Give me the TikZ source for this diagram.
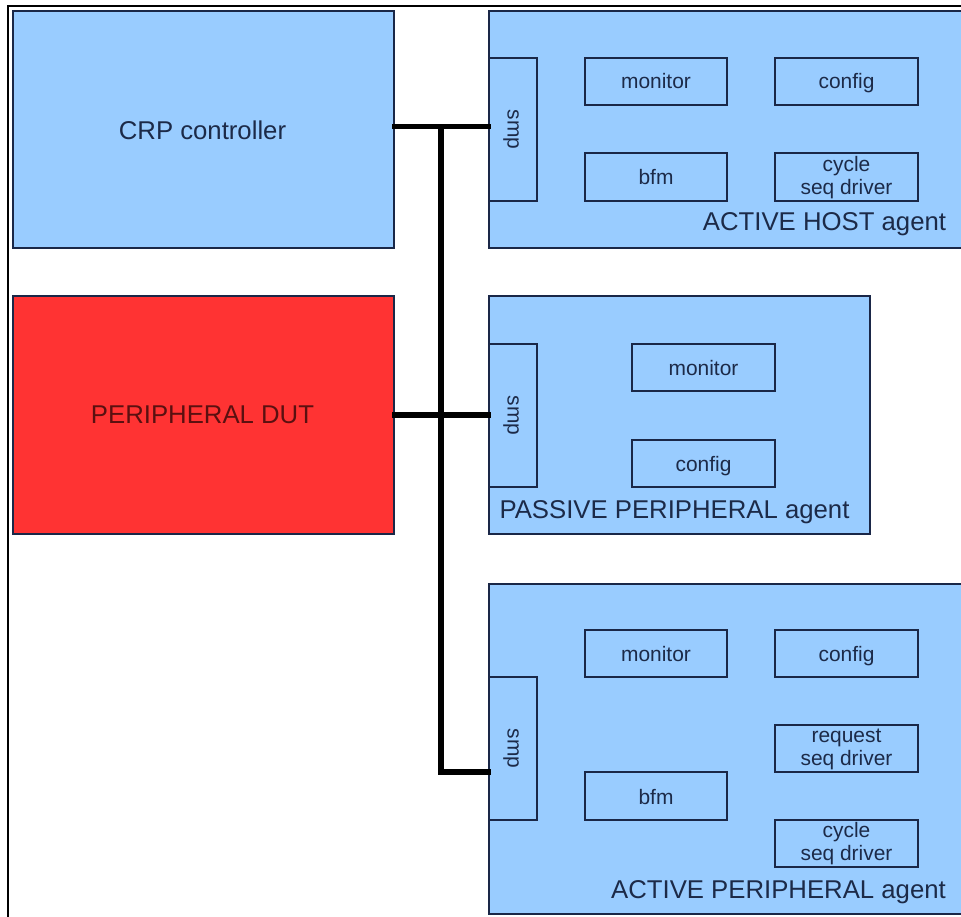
\documentclass[tikz,border=0pt]{standalone}
\usepackage{fontspec}
\setmainfont{Liberation Sans}
\usetikzlibrary{fit}
\definecolor{boxblue}{HTML}{99CCFF}
\definecolor{boxline}{HTML}{1A2747}
\definecolor{txtnavy}{HTML}{1C2A48}
\definecolor{dutred}{HTML}{FF3333}
\definecolor{duttxt}{HTML}{5A1010}
\tikzset{
  bigbox/.style={draw=boxline, line width=1.5pt, fill=boxblue, inner sep=0pt},
  smallbox/.style={draw=boxline, line width=1.2pt, fill=boxblue, inner sep=0pt},
  redbox/.style={draw=boxline, line width=1.5pt, fill=dutred, inner sep=0pt},
  bigtxt/.style={text=txtnavy, font=\fontsize{19.3pt}{22pt}\selectfont, inner sep=0pt, anchor=base},
  smalltxt/.style={text=txtnavy, font=\fontsize{15.7pt}{17.3pt}\selectfont, inner sep=0pt, anchor=base},
  twoline/.style={text=txtnavy, font=\fontsize{15.7pt}{17.3pt}\selectfont, inner sep=0pt, align=center, anchor=center},
  smptxt/.style={text=txtnavy, font=\fontsize{15.7pt}{17.3pt}\selectfont, inner sep=0pt, rotate=-90, anchor=center, text height=8pt, text depth=0pt},
  bus/.style={line width=3.8pt, black, line join=miter, line cap=rect},
  frame/.style={black, line width=1pt}
}
\begin{document}
\begin{tikzpicture}[x=0.75pt, y=-0.75pt]
\useasboundingbox (0,0) rectangle (961,917);
\clip (0,0) rectangle (961,917);
\fill[white] (0,0) rectangle (961,917);
\draw[frame] (8,930) -- (8,6) -- (975,6);

% left boxes
\node[bigbox, fit={(13,11) (394,248)}] (crp) {};
\node[bigtxt] (crptxt) at (202.5,139) {CRP controller};
\node[redbox, fit={(13,296) (394,534)}] (dut) {};
\node[bigtxt, text=duttxt] (duttxt) at (202.5,423) {PERIPHERAL DUT};

% ACTIVE HOST agent
\node[bigbox, fit={(489,11) (980,248)}] (host) {};
\node[smallbox, fit={(489,58) (537,201)}] (hsmp) {};
\node[smptxt] (hsmptxt) at (hsmp.center) {smp};
\node[smallbox, fit={(585,58) (727,105)}] (hmon) {};
\node[smalltxt] (hmontxt) at (656,89) {monitor};
\node[smallbox, fit={(775,58) (918,105)}] (hcfg) {};
\node[smalltxt] (hcfgtxt) at (846.5,89) {config};
\node[smallbox, fit={(585,153) (727,201)}] (hbfm) {};
\node[smalltxt] (hbfmtxt) at (656,185) {bfm};
\node[smallbox, fit={(775,153) (918,201)}] (hcyc) {};
\node[twoline] (hcyctxt) at (846.5,177.5) {cycle\\seq driver};
\node[bigtxt] (hosttxt) at (824.5,230) {ACTIVE HOST agent};

% PASSIVE PERIPHERAL agent
\node[bigbox, fit={(489,296) (870,534)}] (pas) {};
\node[smallbox, fit={(489,344) (537,487)}] (psmp) {};
\node[smptxt] (psmptxt) at (psmp.center) {smp};
\node[smallbox, fit={(632,344) (775,391)}] (pmon) {};
\node[smalltxt] (pmontxt) at (703.5,375) {monitor};
\node[smallbox, fit={(632,440) (775,487)}] (pcfg) {};
\node[smalltxt] (pcfgtxt) at (703.5,471) {config};
\node[bigtxt] (pastxt) at (674.5,518) {PASSIVE PERIPHERAL agent};

% ACTIVE PERIPHERAL agent
\node[bigbox, fit={(489,584) (980,914)}] (actp) {};
\node[smallbox, fit={(489,677) (537,820)}] (asmp) {};
\node[smptxt] (asmptxt) at (asmp.center) {smp};
\node[smallbox, fit={(585,630) (727,677)}] (amon) {};
\node[smalltxt] (amontxt) at (656,661) {monitor};
\node[smallbox, fit={(775,630) (918,677)}] (acfg) {};
\node[smalltxt] (acfgtxt) at (846.5,661) {config};
\node[smallbox, fit={(775,725) (918,772)}] (areq) {};
\node[twoline] (areqtxt) at (846.5,749) {request\\seq driver};
\node[smallbox, fit={(585,772) (727,820)}] (abfm) {};
\node[smalltxt] (abfmtxt) at (656,804) {bfm};
\node[smallbox, fit={(775,820) (918,867)}] (acyc) {};
\node[twoline] (acyctxt) at (846.5,844) {cycle\\seq driver};
\node[bigtxt] (actptxt) at (778.5,898) {ACTIVE PERIPHERAL agent};

% bus
\coordinate (jtop) at (441,126.5);
\coordinate (jmid) at (441,415);
\coordinate (jbot) at (441,772);
\draw[bus] (crp.east |- jtop) -- (hsmp.west |- jtop);
\draw[bus] (dut.east |- jmid) -- (psmp.west |- jmid);
\draw[bus] (jtop) -- (jbot) -- (asmp.west |- jbot);
\end{tikzpicture}
\end{document}
